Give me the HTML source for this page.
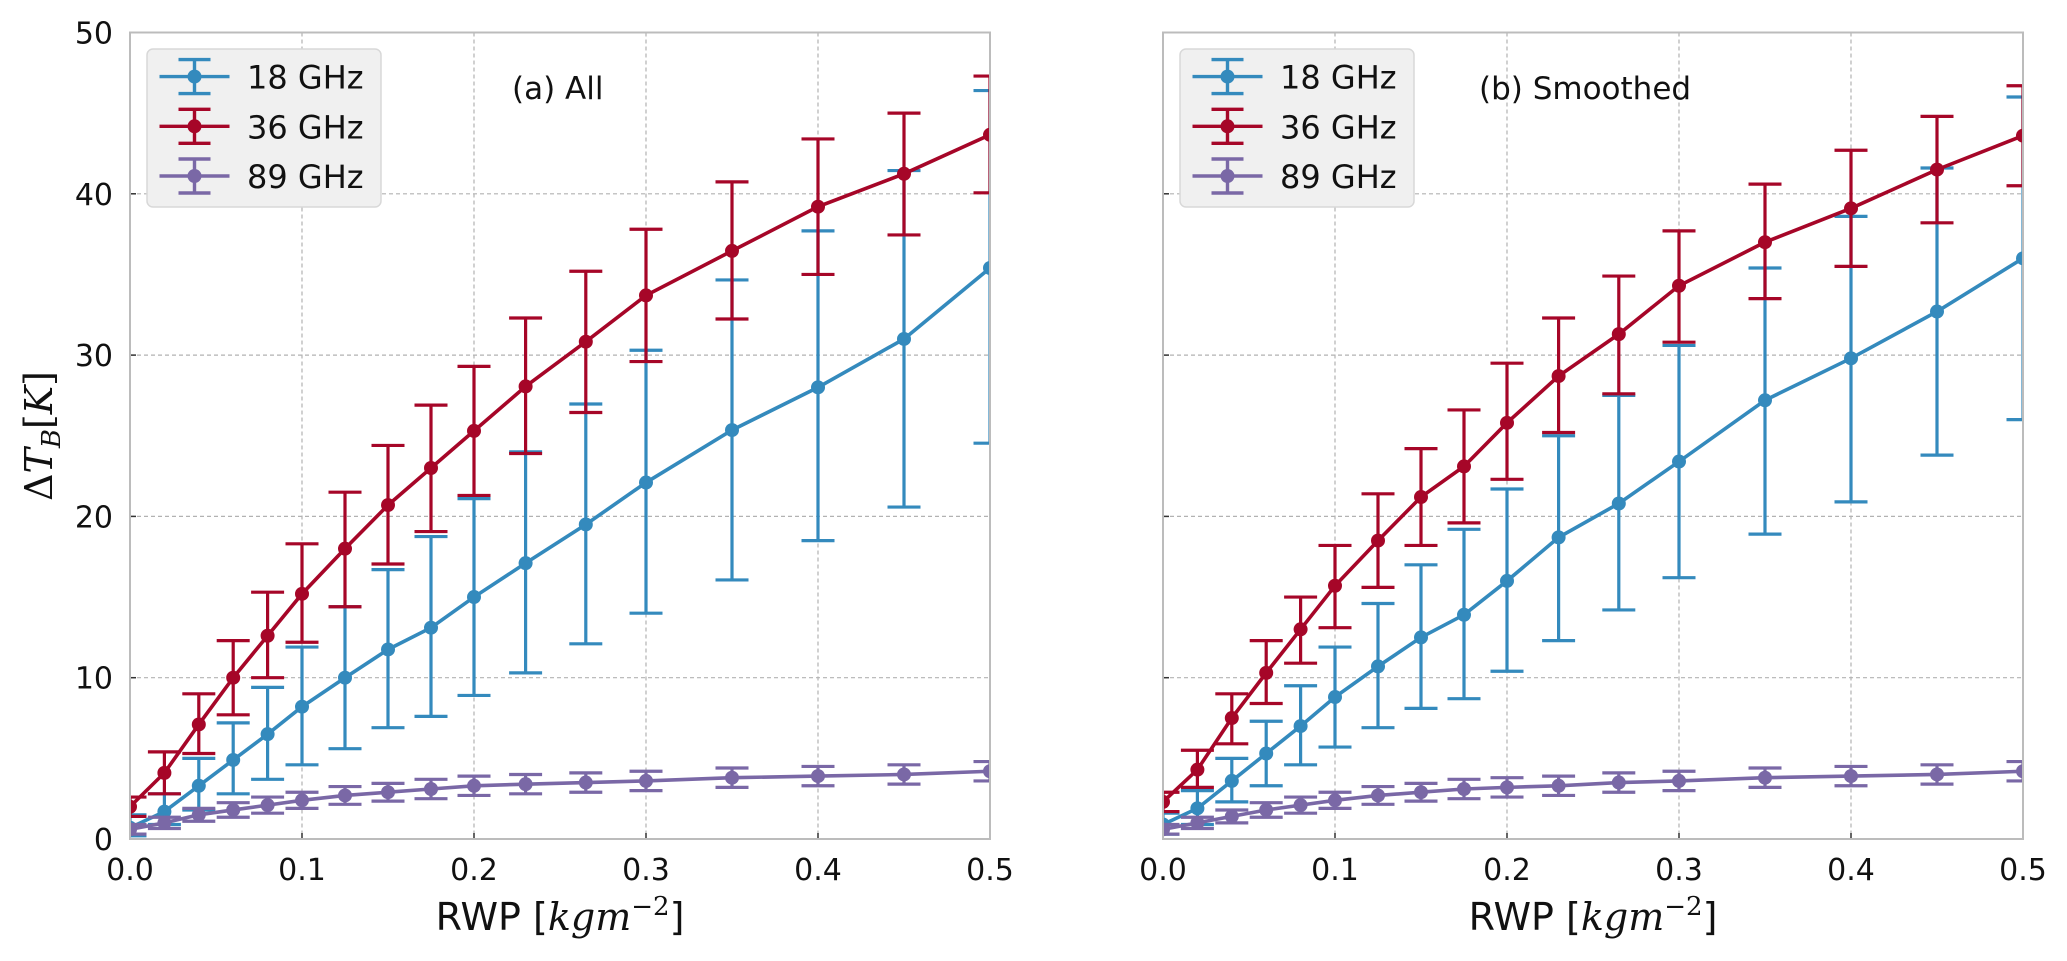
<!DOCTYPE html>
<html><head><meta charset="utf-8"><style>
body{margin:0;background:#fff;}
svg{display:block;font-family:"DejaVu Sans","Liberation Sans",sans-serif;}
</style></head><body>
<svg id="chart" width="2067" height="961" viewBox="0 0 2067 961" xmlns="http://www.w3.org/2000/svg"></svg>
<script>
const xVals=[0,0.02,0.04,0.06,0.08,0.1,0.125,0.15,0.175,0.2,0.23,0.265,0.3,0.35,0.4,0.45,0.5];
const xTicks=[0,0.1,0.2,0.3,0.4,0.5];
const xTickLabels=["0.0","0.1","0.2","0.3","0.4","0.5"];
const yTicks=[0,10,20,30,40,50];
const yTickLabels=["0","10","20","30","40","50"];
const seriesNames=["18 GHz","36 GHz","89 GHz"];
// panel (a) All
const a18=[0.7,1.7,3.3,4.9,6.5,8.2,10.0,11.75,13.1,15.0,17.1,19.5,22.1,25.35,28.0,31.0,35.4];
const a18Hi=[1.5,2.8,5.0,7.2,9.4,11.9,14.4,16.7,18.75,21.1,24.0,26.97,30.3,34.66,37.7,41.44,46.4];
const a18Lo=[0.2,0.9,1.8,2.8,3.7,4.6,5.6,6.9,7.6,8.9,10.3,12.1,14.0,16.06,18.5,20.58,24.54];
const a36=[2.0,4.1,7.1,10.0,12.6,15.2,18.0,20.7,23.0,25.3,28.06,30.83,33.7,36.46,39.2,41.24,43.66];
const a36Hi=[2.6,5.4,9.0,12.3,15.3,18.3,21.5,24.4,26.9,29.3,32.3,35.2,37.8,40.74,43.4,45.0,47.3];
const a36Lo=[1.4,2.8,5.3,7.7,10.0,12.2,14.4,17.05,19.06,21.3,23.9,26.44,29.6,32.24,35.0,37.45,40.06];
const a89=[0.6,1.0,1.5,1.8,2.1,2.4,2.7,2.9,3.1,3.3,3.4,3.5,3.6,3.8,3.9,4.0,4.2];
const a89Err=[0.3,0.35,0.4,0.45,0.5,0.5,0.55,0.55,0.6,0.6,0.6,0.6,0.6,0.6,0.6,0.6,0.6];
// panel (b) Smoothed
const b18=[0.9,1.9,3.6,5.3,7.0,8.8,10.7,12.5,13.9,16.0,18.7,20.8,23.4,27.2,29.8,32.7,36.0];
const b18Hi=[1.6,3.0,5.0,7.3,9.5,11.9,14.6,17.0,19.2,21.7,25.0,27.5,30.6,35.4,38.6,41.6,46.0];
const b18Lo=[0.3,0.9,2.3,3.3,4.6,5.7,6.9,8.1,8.7,10.4,12.3,14.2,16.2,18.9,20.9,23.8,26.0];
const b36=[2.3,4.3,7.5,10.3,13.0,15.7,18.5,21.2,23.1,25.8,28.7,31.3,34.3,37.0,39.1,41.5,43.6];
const b36Hi=[2.9,5.5,9.0,12.3,15.0,18.2,21.4,24.2,26.6,29.5,32.3,34.9,37.7,40.6,42.7,44.8,46.7];
const b36Lo=[1.7,3.2,5.9,8.4,10.9,13.1,15.6,18.2,19.6,22.3,25.2,27.6,30.8,33.5,35.5,38.2,40.5];
const b89=[0.6,1.0,1.4,1.8,2.1,2.4,2.7,2.9,3.1,3.2,3.3,3.5,3.6,3.8,3.9,4.0,4.2];
const b89Err=[0.3,0.35,0.4,0.45,0.5,0.5,0.55,0.55,0.6,0.6,0.6,0.6,0.6,0.6,0.6,0.6,0.6];

const NS="http://www.w3.org/2000/svg";
const svg=document.getElementById('chart');
const COLORS=["#348ABD","#A60628","#7A68A6"];
const TOP=32.5,BOT=839,W=860;
function mk(tag,attrs,parent){const e=document.createElementNS(NS,tag);for(const k in attrs)e.setAttribute(k,attrs[k]);(parent||svg).appendChild(e);return e;}
function yS(v){return BOT-(v/50)*(BOT-TOP);}

function panel(x0,key,title,s18,h18,l18,s36,h36,l36,s89,e89,showY){
  const xS=v=>x0+(v/0.5)*W;
  const g=mk('g',{});
  
  
  const bg=mk('rect',{x:x0,y:TOP,width:W,height:BOT-TOP,fill:'#fff'},g);
  
  
  for(let i=1;i<xTicks.length-1;i++){
    const l=mk('line',{x1:xS(xTicks[i]),x2:xS(xTicks[i]),y1:TOP,y2:BOT,stroke:'#b2b2b2','stroke-width':1.2,'stroke-dasharray':'4,3'},g);
    
    
  }
  for(let i=1;i<yTicks.length-1;i++){
    const l=mk('line',{x1:x0,x2:x0+W,y1:yS(yTicks[i]),y2:yS(yTicks[i]),stroke:'#b2b2b2','stroke-width':1.2,'stroke-dasharray':'4,3'},g);
    
    
  }
  xTicks.forEach((t,i)=>{
    mk('line',{x1:xS(t),x2:xS(t),y1:BOT,y2:BOT-6,stroke:'#333','stroke-width':1.5},g);
    const tx=mk('text',{x:xS(t),y:880,'font-size':30,'text-anchor':'middle',fill:'#111'},g);
    tx.textContent=xTickLabels[i];
    
    
  });
  yTicks.forEach((t,i)=>{
    mk('line',{x1:x0,x2:x0+6,y1:yS(t),y2:yS(t),stroke:'#333','stroke-width':1.5},g);
    if(showY){
      const tx=mk('text',{x:113,y:yS(t)+11,'font-size':30,'text-anchor':'end',fill:'#111'},g);
      tx.textContent=yTickLabels[i];
      
      
    }
  });
  const clip=mk('clipPath',{id:'clip-'+key},g);
  mk('rect',{x:x0,y:TOP,width:W,height:BOT-TOP},clip);
  const sets=[[s18,h18,l18],[s36,h36,l36],[s89,s89.map((v,i)=>v+e89[i]),s89.map((v,i)=>v-e89[i])]];
  sets.forEach((s,si)=>{
    const c=COLORS[si];
    const sg=mk('g',{'clip-path':'url(#clip-'+key+')'},g);
    
    
    xVals.forEach((xv,i)=>{
      const x=xS(xv);
      const e=mk('path',{d:`M${x},${yS(s[1][i])}V${yS(s[2][i])}M${x-16.5},${yS(s[1][i])}H${x+16.5}M${x-16.5},${yS(s[2][i])}H${x+16.5}`,stroke:c,'stroke-width':3.2,fill:'none'},sg);
      
      
    });
    const pts=xVals.map((xv,i)=>xS(xv)+','+yS(s[0][i])).join(' ');
    const pl=mk('polyline',{points:pts,stroke:c,'stroke-width':3.6,fill:'none'},sg);
    
    
    xVals.forEach((xv,i)=>{
      const m=mk('circle',{cx:xS(xv),cy:yS(s[0][i]),r:7,fill:c},sg);
      
      
    });
  });
  const fr=mk('rect',{x:x0,y:TOP,width:W,height:BOT-TOP,fill:'none',stroke:'#bcbcbc','stroke-width':2},g);
  
  
  const lg=mk('g',{},g);
  
  
  mk('rect',{x:x0+17,y:49,width:234,height:158,rx:6,fill:'#f0f0f0',stroke:'#d8d8d8','stroke-width':1.5},lg);
  seriesNames.forEach((n,i)=>{
    const cy=76.6+i*49.7, c=COLORS[i], lx=x0+64.5;
    const e=mk('g',{},lg);
    
    
    mk('path',{d:`M${lx-35},${cy}H${lx+35}M${lx},${cy-17}V${cy+17}M${lx-16},${cy-17}H${lx+16}M${lx-16},${cy+17}H${lx+16}`,stroke:c,'stroke-width':3.4,fill:'none'},e);
    mk('circle',{cx:lx,cy:cy,r:7,fill:c},e);
    const t=mk('text',{x:x0+117,y:cy+12,'font-size':32,fill:'#111'},e);
    t.textContent=n;
  });
  const tt=mk('text',{x:x0+(key==='a'?382:316),y:99,'font-size':31,fill:'#111'},g);
  tt.textContent=title;
  
  
  const xl=mk('text',{x:x0+W/2,y:930,'font-size':38,'text-anchor':'middle',fill:'#111'},g);
  
  
  xl.innerHTML='RWP [<tspan font-family="DejaVu Serif, Liberation Serif, serif" font-style="italic">kgm</tspan><tspan font-family="DejaVu Serif, serif" font-size="26" dy="-15">−2</tspan><tspan dy="15">]</tspan>';
}
panel(130,'a','(a) All',a18,a18Hi,a18Lo,a36,a36Hi,a36Lo,a89,a89Err,true);
panel(1163,'b','(b) Smoothed',b18,b18Hi,b18Lo,b36,b36Hi,b36Lo,b89,b89Err,false);
const yl=mk('text',{x:0,y:0,'font-size':38,'text-anchor':'middle',fill:'#111',transform:'translate(52,436) rotate(-90)','font-family':'DejaVu Serif, Liberation Serif, serif'});


yl.innerHTML='Δ<tspan font-style="italic">T</tspan><tspan font-style="italic" font-size="26" dy="8">B</tspan><tspan dy="-8">[</tspan><tspan font-style="italic">K</tspan>]';
</script>
</body></html>
